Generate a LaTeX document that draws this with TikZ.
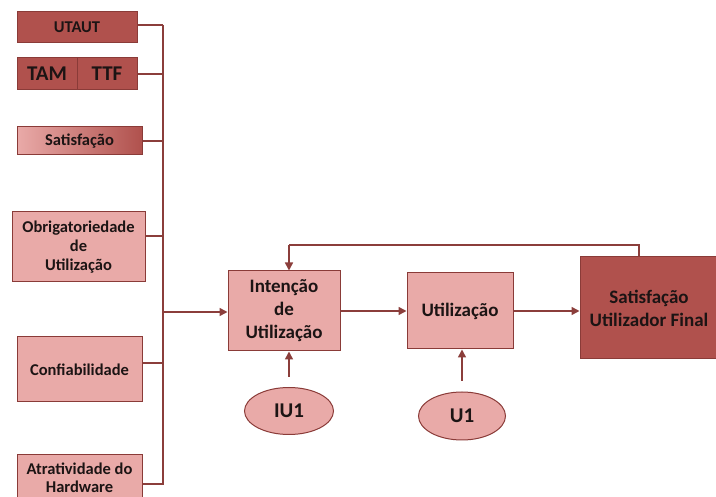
\documentclass[tikz,border=0pt]{standalone}
\usepackage{fontspec}
\setmainfont{Carlito}
\usetikzlibrary{arrows.meta,shapes.geometric}
\definecolor{darkbox}{HTML}{B0514D}
\definecolor{lightbox}{HTML}{E9AAA8}
\definecolor{edgecol}{HTML}{8A3B38}
\definecolor{wirecol}{HTML}{8B3E3B}
\definecolor{inkcol}{HTML}{1C1414}
\tikzset{
  box/.style={draw=edgecol, line width=1pt, align=center, text=inkcol,
    font=\bfseries, inner sep=0pt},
  darkfill/.style={box, fill=darkbox},
  lightfill/.style={box, fill=lightbox},
  oval/.style={ellipse, draw=edgecol, line width=1pt, fill=lightbox, text=inkcol,
    font=\bfseries\fontsize{21}{24}\selectfont, inner sep=0pt},
  wire/.style={draw=wirecol, line width=1.6pt},
  arrow/.style={wire, -{Triangle[width=8pt,length=8pt]}},
  small/.style={font=\bfseries\fontsize{16.5}{19}\selectfont},
  big/.style={font=\bfseries\fontsize{19}{23}\selectfont}
}
\begin{document}
\begin{tikzpicture}[x=1pt,y=-1pt]
\useasboundingbox (0,0) rectangle (716,497);

% model boxes on the left
\node[darkfill, small, minimum width=120pt, minimum height=31pt] (utaut) at (77,27.5) {UTAUT};
\node[darkfill, font=\bfseries\fontsize{21}{24}\selectfont, minimum width=60pt, minimum height=32pt] (tam) at (47,74) {TAM};
\node[darkfill, font=\bfseries\fontsize{21}{24}\selectfont, minimum width=60pt, minimum height=32pt] (ttf) at (107,74) {TTF};
\node[box, small, left color=lightbox, right color=darkbox, minimum width=125pt, minimum height=28pt] (sat) at (79.5,141) {Satisfação};
\node[lightfill, small, minimum width=133pt, minimum height=70pt] (obr) at (78.5,247) {Obrigatoriedade\\de\\Utilização};
\node[lightfill, small, minimum width=125pt, minimum height=65pt] (conf) at (79.5,369.5) {Confiabilidade};
\node[lightfill, small, minimum width=125pt, minimum height=60pt] (atr) at (79.5,485) {};
\node[font=\bfseries\fontsize{16.5}{18}\selectfont, text=inkcol, align=center, anchor=north] (atrtxt) at (79.5,459) {Atratividade do\\Hardware};

% bus collecting the factors
\coordinate (bt) at (163,25);
\coordinate (bb) at (163,485);
\coordinate (bm) at (163,312);
\draw[wire] (bt) -- (bb);
\draw[wire] (utaut.east |- bt) -- (bt);
\draw[wire] (ttf.east) -- (ttf.east -| bt);
\draw[wire] (sat.east) -- (sat.east -| bt);
\draw[wire] (obr.east |- 0,236) -- (163,236);
\draw[wire] (conf.east |- 0,363) -- (163,363);
\draw[wire] (atr.east |- 0,484) -- (163,484);

% main chain
\node[lightfill, big, minimum width=112pt, minimum height=80pt] (int) at (284,311) {Intenção\\de\\Utilização};
\node[lightfill, big, minimum width=106pt, minimum height=76pt] (uti) at (460,311) {Utilização};
\node[darkfill, big, minimum width=138pt, minimum height=102pt] (fin) at (649,308) {Satisfação\\Utilizador Final};

\draw[arrow] (bm) -- (int.west |- bm);
\draw[arrow] (int.east) -- (uti.west);
\draw[arrow] (uti.east) -- (fin.west |- uti.east);

% feedback loop
\coordinate (fa) at (639,245);
\coordinate (fb) at (289,245);
\draw[wire] (fin.north -| fa) -- (fa) -- (fb);
\draw[arrow] (fb) -- (fb |- int.north);

% indicators
\node[oval, minimum width=89pt, minimum height=47pt] (iu1) at (289,411) {IU1};
\node[oval, minimum width=87pt, minimum height=48pt] (u1) at (462,416) {U1};
\coordinate (ia) at (289,377);
\coordinate (ua) at (462,381);
\draw[arrow] (ia) -- (ia |- int.south);
\draw[arrow] (ua) -- (ua |- uti.south);
\end{tikzpicture}
\end{document}
